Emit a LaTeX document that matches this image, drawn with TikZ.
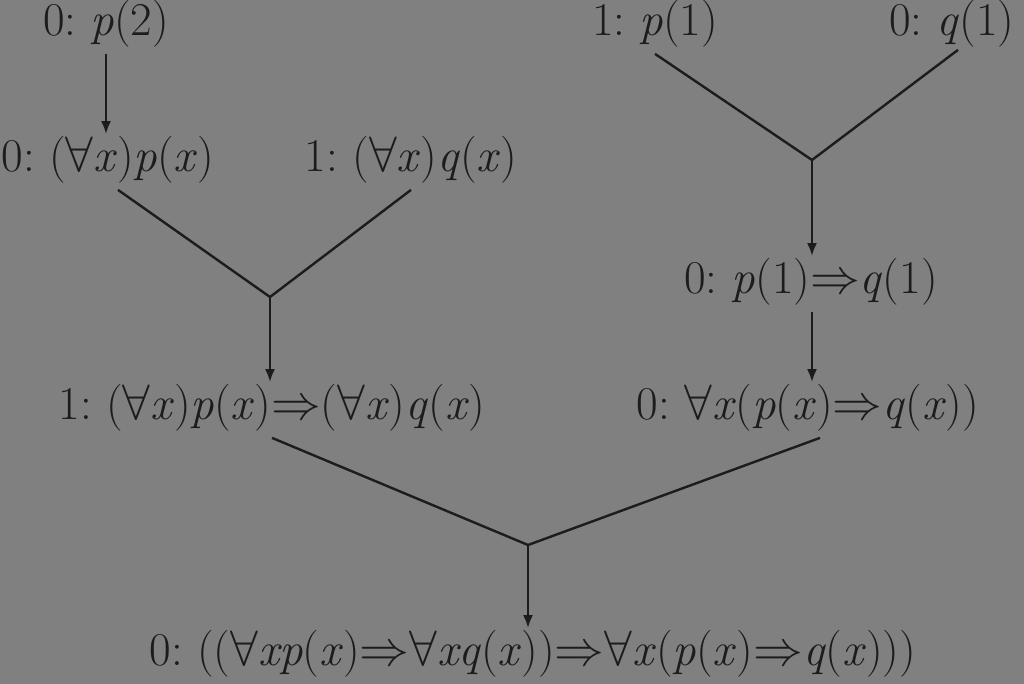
\documentclass[tikz,border=0pt]{standalone}
\usepackage{amssymb}
\usepackage{amsmath}
\usepackage{tikz}
\usetikzlibrary{arrows.meta}
\definecolor{bggray}{HTML}{808080}
\definecolor{ink}{HTML}{1C1C1C}
\newcommand{\ti}[1]{\textit{#1}}
\frenchspacing

\begin{document}
\begin{tikzpicture}[x=0.5pt,y=-0.5pt,
        formula/.style={inner sep=0pt,text=ink,font=\fontsize{23.5}{28}\selectfont},
        link/.style={draw=ink,line width=1.2pt},
        step arrow/.style={link,-{Latex[length=6.5pt,width=5pt]}}]
                \useasboundingbox (0,0) rectangle (1024,684);
                \fill[bggray] (0,0) rectangle (1024,684);
                % left branch
                \node[formula] (ptwo) at (106,24) {0: \ti{p}(2)};
                \node[formula] (allp) at (108,160) {0: ($\forall$\ti{x})\ti{p}(\ti{x})};
                \node[formula] (allq) at (411,160) {1: ($\forall$\ti{x})\ti{q}(\ti{x})};
                \coordinate (joinL) at (270,297);
                \node[formula] (impL) at (272,408) {1: ($\forall$\ti{x})\ti{p}(\ti{x})$\Rightarrow$($\forall$\ti{x})\ti{q}(\ti{x})};
                \draw[step arrow] ([yshift=-3pt]ptwo.south) -- ([yshift=1pt]ptwo.south |- allp.north);
                \draw[link] ([xshift=5pt,yshift=-3pt]allp.south) -- (joinL);
                \draw[link] ([yshift=-3pt]allq.south) -- (joinL);
                \draw[step arrow] (joinL) -- ([yshift=1pt]joinL |- impL.north);
                % right branch
                \node[formula] (pone) at (655,24) {1: \ti{p}(1)};
                \node[formula] (qone) at (952,24) {0: \ti{q}(1)};
                \coordinate (joinR) at (812,160);
                \node[formula] (impR) at (811,282) {0: \ti{p}(1)$\Rightarrow$\ti{q}(1)};
                \node[formula] (allimp) at (808,408) {0: $\forall$\ti{x}(\ti{p}(\ti{x})$\Rightarrow$\ti{q}(\ti{x}))};
                \draw[link] ([yshift=-3pt]pone.south) -- (joinR);
                \draw[link] ([xshift=3pt,yshift=-1pt]qone.south) -- (joinR);
                \draw[step arrow] (joinR) -- ([yshift=1pt]joinR |- impR.north);
                \draw[step arrow] ([yshift=-3pt]joinR |- impR.south) -- ([yshift=1pt]joinR |- allimp.north);
                % bottom
                \coordinate (joinB) at (528,545);
                \node[formula] (goal) at (533,654) {0: (($\forall$\ti{xp}(\ti{x})$\Rightarrow$$\forall$\ti{xq}(\ti{x}))$\Rightarrow$$\forall$\ti{x}(\ti{p}(\ti{x})$\Rightarrow$\ti{q}(\ti{x})))};
                \draw[link] ([yshift=-3pt]impL.south) -- (joinB);
                \draw[link] ([xshift=6pt,yshift=-3pt]allimp.south) -- (joinB);
                \draw[step arrow] (joinB) -- ([yshift=1pt]joinB |- goal.north);
            \end{tikzpicture}
\end{document}
